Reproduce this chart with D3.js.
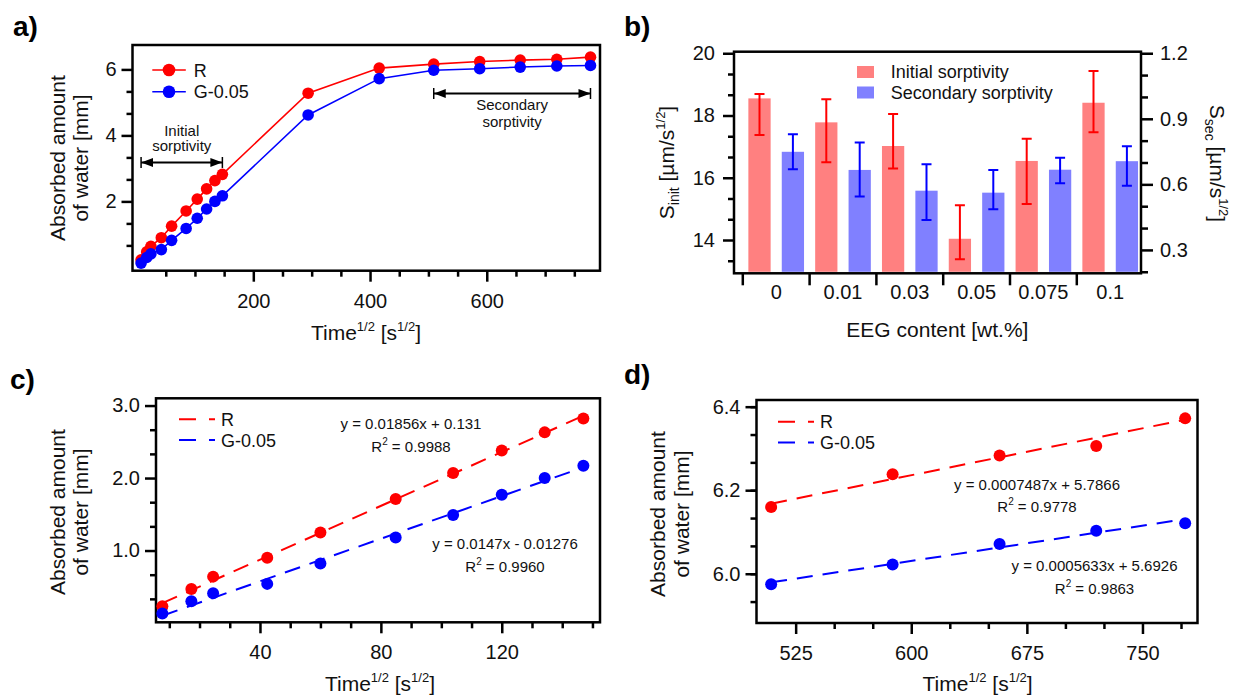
<!DOCTYPE html>
<html>
<head>
<meta charset="utf-8">
<script src="https://d3js.org/d3.v7.min.js"></script>
<style>
	body { margin: 0; background: #fff; }
	svg { display: block; font-family: Arial, "Liberation Sans", sans-serif; }
	.axis text { font-family: Arial, "Liberation Sans", sans-serif; font-size: 20px; fill: #111; }
	.axis line { stroke: #000; stroke-width: 2.5; }
	.frame { fill: none; stroke: #000; stroke-width: 2.5; }
	.title { font-size: 21px; fill: #111; }
	.legend { font-size: 18px; fill: #111; }
	.note { font-size: 15px; fill: #111; }
	.letter { font-size: 28px; font-weight: bold; fill: #000; }
</style>
</head>
<body>
<script>
	// sorption data, time^1/2 [s^1/2] vs absorbed water [mm]
	var time   = [7.7, 17.3, 24.5, 42.4, 60, 84.9, 103.9, 120, 134.2, 147, 293.9, 415.7, 509.1, 587.9, 657.3, 720, 777.7];
	var waterR = [0.23, 0.47, 0.64, 0.90, 1.25, 1.71, 2.07, 2.38, 2.63, 2.82, 5.28, 6.04, 6.16, 6.238, 6.283, 6.306, 6.372];
	var waterG = [0.13, 0.30, 0.41, 0.54, 0.82, 1.18, 1.49, 1.77, 2.00, 2.17, 4.62, 5.72, 5.975, 6.022, 6.071, 6.103, 6.121];

	// sorptivity bars
	var eeg     = ["0", "0.01", "0.03", "0.05", "0.075", "0.1"];
	var sInit   = [18.55, 17.78, 17.02, 14.04, 16.54, 18.41];
	var sInitLo = [17.37, 16.50, 16.30, 13.38, 15.16, 17.46];
	var sInitHi = [18.69, 18.52, 18.05, 15.12, 17.25, 19.43];
	var sSec    = [0.749, 0.666, 0.571, 0.562, 0.667, 0.706];
	var sSecLo  = [0.669, 0.544, 0.437, 0.486, 0.605, 0.594];
	var sSecHi  = [0.829, 0.791, 0.692, 0.666, 0.722, 0.774];

	// linear fits (R, G-0.05)
	var fitSlopeC = [0.01856, 0.0147];
	var fitIcptC  = [0.131, -0.01276];
	var eqC = ["y = 0.01856x + 0.131", "y = 0.0147x - 0.01276"];
	var r2C = ["0.9988", "0.9960"];
	var fitSlopeD = [0.0007487, 0.0005633];
	var fitIcptD  = [5.7866, 5.6926];
	var eqD = ["y = 0.0007487x + 5.7866", "y = 0.0005633x + 5.6926"];
	var r2D = ["0.9778", "0.9863"];

	// tick labels
	var ticksAx = [200, 400, 600], ticksAy = [2, 4, 6];
	var ticksBl = [14, 16, 18, 20], ticksBr = [0.3, 0.6, 0.9, 1.2];
	var ticksCx = [40, 80, 120], ticksCy = [1, 2, 3];
	var ticksDx = [525, 600, 675, 750], ticksDy = [6.0, 6.2, 6.4];

	var seriesNames = ["R", "G-0.05"];
	var colors = ["#ff0000", "#0000ff"];
	var barColors = ["#ff8080", "#8080ff"];

	var svg = d3.select("body").append("svg").attr("width", 1250).attr("height", 698);
	svg.append("rect").attr("width", 1250).attr("height", 698).attr("fill", "#fff");

	// text with sub/superscripts
	function rich(sel, parts) {
		var shift = 0;
		parts.forEach(function(p) {
			var t = sel.append("tspan").text(p[0]);
			var target = p[1] === "sup" ? -9 : (p[1] === "sub" ? 5 : 0);
			if (target !== shift) t.attr("dy", target - shift);
			shift = target;
			if (p[1] === "sup") t.attr("font-size", "13px");
			if (p[1] === "sub") t.attr("font-size", "14px");
		});
		return sel;
	}
	var timeTitle = [["Time", ""], ["1/2", "sup"], [" [s", ""], ["1/2", "sup"], ["]", ""]];

	function notMajor(list, major) {
		return list.filter(v => !major.some(m => Math.abs(m - v) < 1e-6));
	}

	function axes(box, x, y, xt, xm, yt, ym, xf, yf) {
		var g = svg.append("g");
		g.append("g").attr("class", "axis").attr("transform", "translate(0," + box.b + ")")
			.call(d3.axisBottom(x).tickValues(notMajor(xm, xt)).tickSize(6).tickFormat(""));
		g.append("g").attr("class", "axis").attr("transform", "translate(0," + box.b + ")")
			.call(d3.axisBottom(x).tickValues(xt).tickSize(11).tickPadding(12).tickFormat(xf));
		g.append("g").attr("class", "axis").attr("transform", "translate(" + box.l + ",0)")
			.call(d3.axisLeft(y).tickValues(notMajor(ym, yt)).tickSize(6).tickFormat(""));
		g.append("g").attr("class", "axis").attr("transform", "translate(" + box.l + ",0)")
			.call(d3.axisLeft(y).tickValues(yt).tickSize(11).tickPadding(5).tickFormat(yf));
		g.selectAll(".domain").remove();
		g.append("rect").attr("class", "frame")
			.attr("x", box.l).attr("y", box.t)
			.attr("width", box.r - box.l).attr("height", box.b - box.t);
	}

	function yTitle(x1, x2, cy) {
		svg.append("text").attr("class", "title").attr("text-anchor", "middle")
			.attr("transform", "translate(" + x1 + "," + cy + ") rotate(-90)").text("Absorbed amount");
		svg.append("text").attr("class", "title").attr("text-anchor", "middle")
			.attr("transform", "translate(" + x2 + "," + cy + ") rotate(-90)").text("of water [mm]");
	}

	function letter(txt, x, y) {
		svg.append("text").attr("class", "letter").attr("x", x).attr("y", y).text(txt);
	}

	// ---------- a) ----------
	var boxA = { l: 132.5, t: 45, r: 600, b: 270.7 };
	var xa = d3.scaleLinear().domain([-7, 794]).range([boxA.l, boxA.r]);
	var ya = d3.scaleLinear().domain([-0.1, 6.74]).range([boxA.b, boxA.t]);
	axes(boxA, xa, ya, ticksAx, d3.range(50, 790, 50), ticksAy, d3.range(1, 10).map(i => i * 2 / 3),
		d3.format("d"), d3.format("d"));

	[waterR, waterG].forEach(function(ys, k) {
		var pts = time.map((t, i) => [t, ys[i]]);
		svg.append("path").datum(pts)
			.attr("d", d3.line().x(d => xa(d[0])).y(d => ya(d[1])))
			.attr("fill", "none").attr("stroke", colors[k]).attr("stroke-width", 1.6);
		svg.append("g").selectAll("circle").data(pts).enter().append("circle")
			.attr("cx", d => xa(d[0])).attr("cy", d => ya(d[1])).attr("r", 5.8)
			.attr("fill", colors[k]);
		// legend
		var ly = 70 + k * 21.7;
		svg.append("line").attr("x1", 152.3).attr("x2", 185.8).attr("y1", ly).attr("y2", ly)
			.attr("stroke", colors[k]).attr("stroke-width", 1.6);
		svg.append("circle").attr("cx", 169).attr("cy", ly).attr("r", 6.3).attr("fill", colors[k]);
		svg.append("text").attr("class", "legend").attr("x", 193.7).attr("y", ly + 6.5).text(seriesNames[k]);
	});

	// sorptivity ranges
	svg.append("defs").append("marker").attr("id", "head")
		.attr("viewBox", "0 0 12 10").attr("refX", 12).attr("refY", 5)
		.attr("markerWidth", 12).attr("markerHeight", 10).attr("markerUnits", "userSpaceOnUse")
		.attr("orient", "auto-start-reverse")
		.append("path").attr("d", "M0,0.5 L12,5 L0,9.5 Z").attr("fill", "#000");
	var spans = [
		{ x0: time[0], x1: time[9], y: 3.18, lines: ["Initial", "sorptivity"], dy: [-26, -11.5] },
		{ x0: time[12], x1: time[16], y: 5.27, lines: ["Secondary", "sorptivity"], dy: [16.5, 33] }
	];
	spans.forEach(function(s) {
		var px0 = xa(s.x0), px1 = xa(s.x1), py = ya(s.y);
		svg.append("line").attr("x1", px0).attr("x2", px1).attr("y1", py).attr("y2", py)
			.attr("stroke", "#000").attr("stroke-width", 2)
			.attr("marker-start", "url(#head)").attr("marker-end", "url(#head)");
		[px0, px1].forEach(function(px) {
			svg.append("line").attr("x1", px).attr("x2", px).attr("y1", py - 5.5).attr("y2", py + 5.5)
				.attr("stroke", "#000").attr("stroke-width", 1.5);
		});
		s.lines.forEach(function(l, j) {
			svg.append("text").attr("class", "note").attr("text-anchor", "middle")
				.attr("x", (px0 + px1) / 2).attr("y", py + s.dy[j]).text(l);
		});
	});

	yTitle(65, 88, 158);
	rich(svg.append("text").attr("class", "title").attr("text-anchor", "middle")
		.attr("x", 366).attr("y", 340), timeTitle);
	letter("a)", 13, 36);

	// ---------- b) ----------
	var boxB = { l: 734, t: 51.7, r: 1141, b: 273.3 };
	var xb = d3.scaleBand().domain(eeg).range([742.8, 1143.6]);
	var ybl = d3.scaleLinear().domain([12.93, 20.05]).range([boxB.b, boxB.t]);
	var ybr = d3.scaleLinear().domain([0.193, 1.207]).range([boxB.b, boxB.t]);
	var bw = xb.bandwidth();

	var barSets = [
		{ v: sInit, lo: sInitLo, hi: sInitHi, y: ybl, off: 0.25 },
		{ v: sSec, lo: sSecLo, hi: sSecHi, y: ybr, off: 0.75 }
	];
	barSets.forEach(function(s, k) {
		var g = svg.append("g");
		g.selectAll("rect").data(eeg).enter().append("rect")
			.attr("x", d => xb(d) + bw * s.off - bw / 6)
			.attr("width", bw / 3)
			.attr("y", (d, i) => s.y(s.v[i]))
			.attr("height", (d, i) => boxB.b - 1.5 - s.y(s.v[i]))
			.attr("fill", barColors[k]);
		g.selectAll("path").data(eeg).enter().append("path")
			.attr("d", function(d, i) {
				var cx = xb(d) + bw * s.off, y0 = s.y(s.lo[i]), y1 = s.y(s.hi[i]);
				return "M" + cx + "," + y0 + "V" + y1 +
					"M" + (cx - 5) + "," + y0 + "H" + (cx + 5) +
					"M" + (cx - 5) + "," + y1 + "H" + (cx + 5);
			})
			.attr("fill", "none").attr("stroke", colors[k]).attr("stroke-width", 2);
	});

	var gb = svg.append("g");
	gb.append("g").attr("class", "axis").attr("transform", "translate(" + boxB.l + ",0)")
		.call(d3.axisLeft(ybl).tickValues(notMajor(d3.range(20, 13, -2 / 3), ticksBl)).tickSize(6).tickFormat(""));
	gb.append("g").attr("class", "axis").attr("transform", "translate(" + boxB.l + ",0)")
		.call(d3.axisLeft(ybl).tickValues(ticksBl).tickSize(11).tickPadding(8).tickFormat(d3.format("d")));
	gb.append("g").attr("class", "axis").attr("transform", "translate(" + boxB.r + ",0)")
		.call(d3.axisRight(ybr).tickValues(notMajor(d3.range(2, 13).map(i => i / 10), ticksBr)).tickSize(7).tickFormat(""));
	gb.append("g").attr("class", "axis").attr("transform", "translate(" + boxB.r + ",0)")
		.call(d3.axisRight(ybr).tickValues(ticksBr).tickSize(12).tickPadding(7).tickFormat(d3.format(".1f")));
	gb.append("g").attr("class", "axis").attr("transform", "translate(0," + boxB.b + ")")
		.call(d3.axisBottom(xb).tickSize(0).tickPadding(12));
	gb.selectAll(".domain").remove();
	gb.append("g").selectAll("line").data(eeg).enter().append("line")
		.attr("x1", d => xb(d)).attr("x2", d => xb(d))
		.attr("y1", boxB.b).attr("y2", boxB.b + 12)
		.attr("stroke", "#000").attr("stroke-width", 2.5);
	gb.append("rect").attr("class", "frame")
		.attr("x", boxB.l).attr("y", boxB.t)
		.attr("width", boxB.r - boxB.l).attr("height", boxB.b - boxB.t);

	["Initial sorptivity", "Secondary sorptivity"].forEach(function(name, k) {
		var cy = 72 + k * 20.5;
		svg.append("rect").attr("x", 857).attr("y", cy - 6).attr("width", 17).attr("height", 12)
			.attr("fill", barColors[k]);
		svg.append("text").attr("class", "legend").attr("x", 890.7).attr("y", cy + 6.3).text(name);
	});

	rich(svg.append("text").attr("class", "title").attr("text-anchor", "middle")
		.attr("transform", "translate(674,162.5) rotate(-90)"),
		[["S", ""], ["init", "sub"], [" [µm/s", ""], ["1/2", "sup"], ["]", ""]]);
	rich(svg.append("text").attr("class", "title").attr("text-anchor", "middle")
		.attr("transform", "translate(1210,163.5) rotate(90)"),
		[["S", ""], ["sec", "sub"], [" [µm/s", ""], ["1/2", "sup"], ["]", ""]]);
	svg.append("text").attr("class", "title").attr("text-anchor", "middle")
		.attr("x", 937.4).attr("y", 337).text("EEG content [wt.%]");
	letter("b)", 624, 36);

	// ---------- c) and d) ----------
	function fitPanel(box, x, y, ids, slope, icpt, eq, r2, eqPos, legX, legY) {
		[waterR, waterG].forEach(function(ys, k) {
			var pts = ids.map(i => [time[i], ys[i]]);
			svg.append("g").selectAll("circle").data(pts).enter().append("circle")
				.attr("cx", d => x(d[0])).attr("cy", d => y(d[1])).attr("r", 6)
				.attr("fill", colors[k]);
			var t0 = pts[0][0], t1 = pts[pts.length - 1][0];
			svg.append("line")
				.attr("x1", x(t0)).attr("y1", y(slope[k] * t0 + icpt[k]))
				.attr("x2", x(t1)).attr("y2", y(slope[k] * t1 + icpt[k]))
				.attr("stroke", colors[k]).attr("stroke-width", 2).attr("stroke-dasharray", "16,10");
			var ly = legY + k * 20.7;
			svg.append("line").attr("x1", legX).attr("x2", legX + 36).attr("y1", ly).attr("y2", ly)
				.attr("stroke", colors[k]).attr("stroke-width", 2).attr("stroke-dasharray", "17,13");
			svg.append("text").attr("class", "legend").attr("x", legX + 42).attr("y", ly + 6.5).text(seriesNames[k]);
			svg.append("text").attr("class", "note").attr("text-anchor", "middle")
				.attr("x", eqPos[k][0]).attr("y", eqPos[k][1]).text(eq[k]);
			var r = svg.append("text").attr("class", "note").attr("text-anchor", "middle")
				.attr("x", eqPos[k][0]).attr("y", eqPos[k][1] + 22.5);
			r.append("tspan").text("R");
			r.append("tspan").attr("dy", -7).attr("font-size", "10px").text("2");
			r.append("tspan").attr("dy", 7).text(" = " + r2[k]);
		});
	}

	var boxC = { l: 156, t: 398.3, r: 600, b: 622.3 };
	var xc = d3.scaleLinear().domain([5.6, 152.5]).range([boxC.l, boxC.r]);
	var yc = d3.scaleLinear().domain([0.01, 3.1]).range([boxC.b, boxC.t]);
	axes(boxC, xc, yc, ticksCx, d3.range(10, 151, 10), ticksCy, d3.range(1, 10).map(i => i / 3),
		d3.format("d"), d3.format(".1f"));
	fitPanel(boxC, xc, yc, d3.range(0, 10), fitSlopeC, fitIcptC, eqC, r2C,
		[[411, 429], [505, 549]], 179, 419.3);
	yTitle(65, 88, 512);
	rich(svg.append("text").attr("class", "title").attr("text-anchor", "middle")
		.attr("x", 380).attr("y", 691), timeTitle);
	letter("c)", 10, 389);

	var boxD = { l: 756.5, t: 400, r: 1197.5, b: 623 };
	var xd = d3.scaleLinear().domain([499.6, 785.7]).range([boxD.l, boxD.r]);
	var yd = d3.scaleLinear().domain([5.882, 6.416]).range([boxD.b, boxD.t]);
	axes(boxD, xd, yd, ticksDx, d3.range(525, 780, 25), ticksDy, d3.range(0, 8).map(i => 5.9333 + i / 15),
		d3.format("d"), d3.format(".1f"));
	fitPanel(boxD, xd, yd, d3.range(12, 17), fitSlopeD, fitIcptD, eqD, r2D,
		[[1037, 489.5], [1094.5, 571]], 778, 421.7);
	yTitle(665, 689, 514);
	rich(svg.append("text").attr("class", "title").attr("text-anchor", "middle")
		.attr("x", 977.6).attr("y", 691), timeTitle);
	letter("d)", 624, 384);
</script>
</body>
</html>
